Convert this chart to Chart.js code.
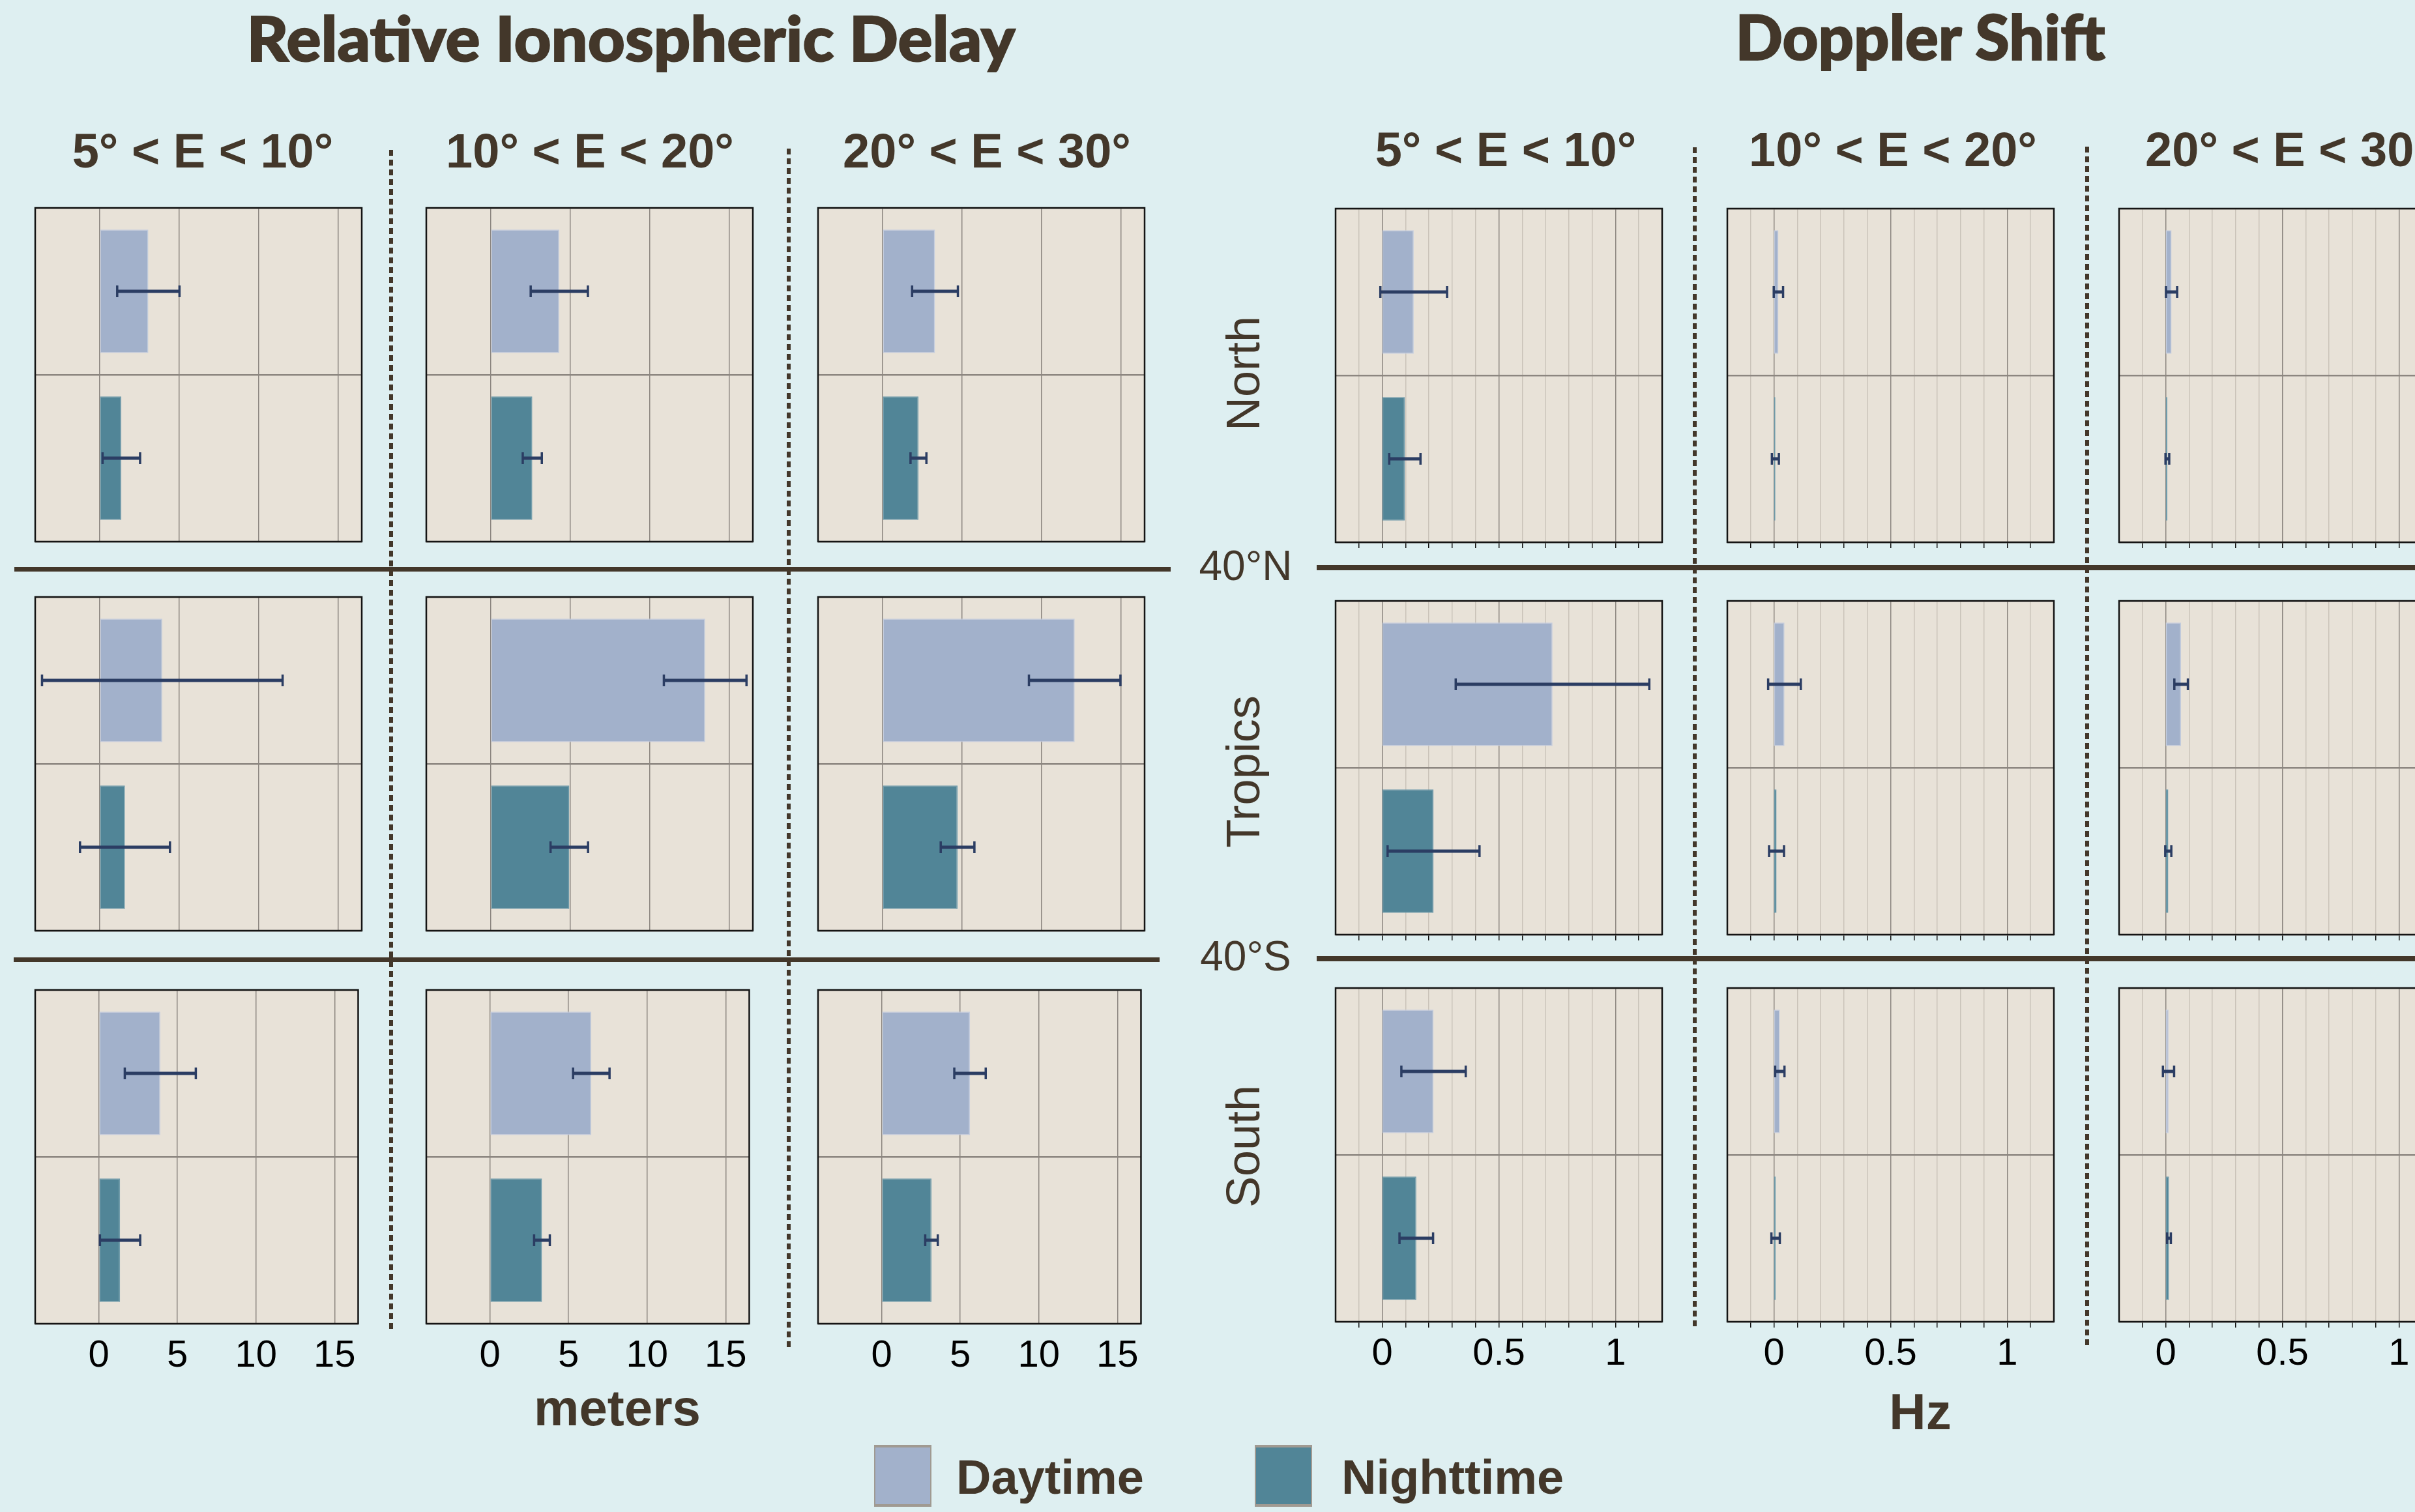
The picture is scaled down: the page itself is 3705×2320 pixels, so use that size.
<!DOCTYPE html>
<html>
<head>
<meta charset="utf-8">
<script src="https://cdn.jsdelivr.net/npm/chart.js@4.4.1/dist/chart.umd.min.js"></script>
<style>
  html, body { margin: 0; padding: 0; }
  body {
    width: 3705px; height: 2320px; overflow: hidden; position: relative;
    background: #deeff1; color: #43372a;
    font-family: 'Liberation Sans', Arial, sans-serif;
  }
  .txt { position: absolute; white-space: nowrap; line-height: 1; }
  .hline { position: absolute; background: #43372a; }
  .dots { position: absolute; width: 6px;
    background: repeating-linear-gradient(to bottom, #43372a 0 9px, transparent 9px 15px); }
  .swatch { position: absolute; box-sizing: border-box;
    border-style: solid; border-color: #a09a92; border-width: 4px 2px; }
  canvas { position: absolute; }
</style>
</head>
<body>
<script>
// categories
const regions = ['North', 'Tropics', 'South'];
const elevBands = ['5° < E < 10°', '10° < E < 20°', '20° < E < 30°'];
const seriesLabels = ['Daytime', 'Nighttime'];

// tick labels
const ridTicks = [0, 5, 10, 15];
const dopTicks = [0, 0.5, 1];

// Relative ionospheric delay (meters), rows = regions, cols = elevation bands
const ridDay      = [[3.07, 4.32, 3.31], [3.95, 13.5, 12.1], [3.91, 6.45, 5.62]];
const ridDayErr   = [[1.96, 1.80, 1.44], [7.57, 2.60, 2.88], [2.26, 1.16, 1.00]];
const ridNight    = [[1.37, 2.62, 2.27], [1.60, 4.95, 4.73], [1.35, 3.31, 3.17]];
const ridNightErr = [[1.18, 0.60, 0.50], [2.83, 1.18, 1.06], [1.28, 0.50, 0.40]];

// Doppler shift (Hz)
const dopDay      = [[0.135, 0.019, 0.025], [0.73, 0.045, 0.066], [0.22, 0.025, 0.012]];
const dopDayErr   = [[0.143, 0.020, 0.024], [0.415, 0.070, 0.029], [0.138, 0.020, 0.024]];
const dopNight    = [[0.097, 0.006, 0.007], [0.22, 0.011, 0.011], [0.146, 0.007, 0.014]];
const dopNightErr = [[0.067, 0.015, 0.008], [0.197, 0.032, 0.013], [0.072, 0.018, 0.008]];

// colours
const INK = '#43372a';
const PANEL_BG = '#e8e2d8';
const DAY = '#a2b1cb';
const NIGHT = '#518597';
const ERR = '#2b3d63';
const GRID = '#8c8680';
const GRID_MINOR = '#cac3b9';
const FAMILY = "'Liberation Sans', Arial, sans-serif";

Chart.defaults.font.family = FAMILY;

// panel boxes
const layout = {
  rid: { cols: [54, 654, 1255], rows: [319, 916, 1519], min: -4.05, max: 16.5 },
  dop: { cols: [2049, 2650, 3251], rows: [320, 922, 1516], min: -0.2, max: 1.2 }
};
const PW = 501, PH = 512, PAD = 6;

// fills the plot box and draws its frame
const panelFrame = {
  id: 'panelFrame',
  beforeDraw(chart) {
    const a = chart.chartArea, ctx = chart.ctx;
    ctx.save();
    ctx.fillStyle = PANEL_BG;
    ctx.fillRect(a.left, a.top, a.width, a.height);
    ctx.restore();
  },
  afterDraw(chart) {
    const a = chart.chartArea, ctx = chart.ctx;
    ctx.save();
    ctx.strokeStyle = '#141414';
    ctx.lineWidth = 2.5;
    ctx.strokeRect(a.left, a.top, a.width, a.height);
    ctx.restore();
  }
};

// horizontal error bars, drawn from dataset.errors through the scales
const errorBars = {
  id: 'errorBars',
  afterDatasetsDraw(chart) {
    const ds = chart.data.datasets[0];
    const xs = chart.scales.x, ys = chart.scales.y, ctx = chart.ctx;
    ctx.save();
    ctx.strokeStyle = ERR;
    ds.data.forEach((v, i) => {
      const e = ds.errors[i];
      const y = ys.getPixelForValue(i);
      const x1 = xs.getPixelForValue(v - e);
      const x2 = xs.getPixelForValue(v + e);
      ctx.lineWidth = 5;
      ctx.beginPath();
      ctx.moveTo(x1, y); ctx.lineTo(x2, y);
      ctx.stroke();
      ctx.lineWidth = 3.5;
      ctx.beginPath();
      ctx.moveTo(x1, y - 9); ctx.lineTo(x1, y + 9);
      ctx.moveTo(x2, y - 9); ctx.lineTo(x2, y + 9);
      ctx.stroke();
    });
    ctx.restore();
  }
};

const isMajor = v => Math.abs(v * 2 - Math.round(v * 2)) < 1e-6;

function makePanel(kind, r, c) {
  const isRid = kind === 'rid';
  const L = layout[kind];
  const bottomRow = r === regions.length - 1;
  const bottomH = bottomRow ? 90 : (isRid ? 0 : 9);

  const canvas = document.createElement('canvas');
  canvas.width = PW + 2 * PAD;
  canvas.height = PH + 2 * PAD + bottomH;
  canvas.style.left = (L.cols[c] - PAD) + 'px';
  canvas.style.top = (L.rows[r] - PAD) + 'px';
  document.body.appendChild(canvas);

  const day = isRid ? ridDay : dopDay;
  const dayErr = isRid ? ridDayErr : dopDayErr;
  const night = isRid ? ridNight : dopNight;
  const nightErr = isRid ? ridNightErr : dopNightErr;

  return new Chart(canvas, {
    type: 'bar',
    data: {
      labels: seriesLabels,
      datasets: [{
        data: [day[r][c], night[r][c]],
        errors: [dayErr[r][c], nightErr[r][c]],
        backgroundColor: [DAY, NIGHT],
        borderColor: ['#c4cddf', '#6e9bab'],
        borderWidth: 1.5,
        borderSkipped: false,
        barPercentage: 0.74,
        categoryPercentage: 1
      }]
    },
    options: {
      indexAxis: 'y',
      responsive: false,
      animation: false,
      devicePixelRatio: 1,
      layout: { padding: { left: PAD, right: PAD, top: PAD, bottom: PAD } },
      plugins: { legend: { display: false }, tooltip: { enabled: false } },
      scales: {
        x: {
          type: 'linear',
          min: L.min,
          max: L.max,
          afterFit: s => { s.height = bottomH; },
          afterBuildTicks: isRid ? s => { s.ticks = ridTicks.map(v => ({ value: v })); } : undefined,
          ticks: {
            display: bottomRow,
            stepSize: isRid ? 5 : 0.1,
            autoSkip: false,
            maxRotation: 0,
            padding: isRid ? 15 : 6,
            color: '#000',
            font: { size: 58 },
            callback: isRid ? (v => String(v)) : (value => {
              const v = Math.round(value * 10) / 10;
              return dopTicks.includes(v) ? String(v) : '';
            })
          },
          grid: {
            lineWidth: 1.5,
            color: ctx => (isRid || isMajor(ctx.tick.value)) ? GRID : GRID_MINOR,
            drawTicks: !isRid,
            tickLength: 9,
            tickWidth: 1.5,
            tickColor: ctx => (ctx.tick.value <= L.min + 1e-6 || ctx.tick.value >= L.max - 1e-6) ? 'rgba(0,0,0,0)' : '#111'
          },
          border: { display: false }
        },
        y: {
          type: 'category',
          offset: true,
          afterFit: s => { s.width = 0; },
          ticks: { display: false },
          grid: { offset: true, color: GRID, lineWidth: 2.5, drawTicks: false },
          border: { display: false }
        }
      }
    },
    plugins: [panelFrame, errorBars]
  });
}

// separators between latitude bands and between elevation columns
function hline(x1, x2, yc, h) {
  const d = document.createElement('div');
  d.className = 'hline';
  d.style.left = x1 + 'px';
  d.style.width = (x2 - x1) + 'px';
  d.style.top = (yc - h / 2) + 'px';
  d.style.height = h + 'px';
  document.body.appendChild(d);
}
function dots(xc, y1, y2) {
  const d = document.createElement('div');
  d.className = 'dots';
  d.style.left = (xc - 3) + 'px';
  d.style.top = y1 + 'px';
  d.style.height = (y2 - y1) + 'px';
  document.body.appendChild(d);
}
hline(22, 1796, 873, 7);
hline(2020, 3705, 871, 8);
hline(21, 1779, 1472, 7);
hline(2020, 3705, 1471, 8);
dots(600, 230, 2043);
dots(1210, 228, 2070);
dots(2600, 226, 2040);
dots(3202, 225, 2067);

// text helpers
const measureCtx = document.createElement('canvas').getContext('2d');
function baseOff(family, weight, size) {
  measureCtx.font = `${weight} ${size}px ${family}`;
  const m = measureCtx.measureText('Hg');
  const asc = m.fontBoundingBoxAscent, desc = m.fontBoundingBoxDescent;
  return asc + (size - (asc + desc)) / 2;
}
function text(str, o) {
  const family = o.family || FAMILY;
  const weight = o.weight || 'normal';
  const d = document.createElement('div');
  d.className = 'txt';
  d.textContent = str;
  d.style.fontFamily = family;
  d.style.fontWeight = weight;
  d.style.fontSize = o.size + 'px';
  if (o.stroke) d.style.webkitTextStroke = o.stroke + 'px ' + INK;
  document.body.appendChild(d);
  const off = baseOff(family, weight, o.size);
  if (o.rotate) {
    // reads bottom to top; baseline is on the right side
    d.style.left = (o.baseX - (off - o.size / 2)) + 'px';
    d.style.top = o.cy + 'px';
    d.style.transform = 'translate(-50%, -50%) rotate(-90deg)';
    return d;
  }
  d.style.top = (o.baseline - off) + 'px';
  let tf = '';
  if (o.cx != null) { d.style.left = o.cx + 'px'; tf = 'translateX(-50%)'; }
  else d.style.left = o.left + 'px';
  if (o.fit) {
    const w = d.getBoundingClientRect().width;
    tf += ` scaleX(${o.fit / w})`;
    if (o.cx == null) d.style.transformOrigin = 'left center';
  }
  d.style.transform = tf;
  return d;
}

const TITLE_FAMILY = "Lato, 'Open Sans', sans-serif";
text('Relative Ionospheric Delay', { cx: 968, baseline: 94, size: 96, weight: 900, family: TITLE_FAMILY, fit: 1179, stroke: 2 });
text('Doppler Shift', { cx: 2946, baseline: 92, size: 96, weight: 900, family: TITLE_FAMILY, fit: 567, stroke: 2 });

const ridHeadX = [311, 905, 1514];
const dopHeadX = [2310, 2904, 3512];
elevBands.forEach((b, i) => {
  text(b, { cx: ridHeadX[i], baseline: 257, size: 74, weight: 'bold' });
  text(b, { cx: dopHeadX[i], baseline: 255, size: 74, weight: 'bold' });
});

const regionY = [573, 1184, 1759];
regions.forEach((name, i) => text(name, { rotate: true, baseX: 1932, cy: regionY[i], size: 72 }));

text('40°N', { cx: 1911, baseline: 890, size: 64 });
text('40°S', { cx: 1911, baseline: 1489, size: 64 });

text('meters', { cx: 947, baseline: 2187, size: 78, weight: 'bold' });
text('Hz', { cx: 2946, baseline: 2193, size: 78, weight: 'bold' });

// legend
function swatch(x, color) {
  const d = document.createElement('div');
  d.className = 'swatch';
  d.style.left = x + 'px';
  d.style.top = '2217px';
  d.style.width = '88px';
  d.style.height = '95px';
  d.style.background = color;
  document.body.appendChild(d);
}
swatch(1341, DAY);
swatch(1925, NIGHT);
text(seriesLabels[0], { left: 1467, baseline: 2292, size: 74, weight: 'bold' });
text(seriesLabels[1], { left: 2058, baseline: 2292, size: 74, weight: 'bold' });

// panels
for (let r = 0; r < regions.length; r++) {
  for (let c = 0; c < elevBands.length; c++) {
    makePanel('rid', r, c);
    makePanel('dop', r, c);
  }
}
</script>
</body>
</html>
